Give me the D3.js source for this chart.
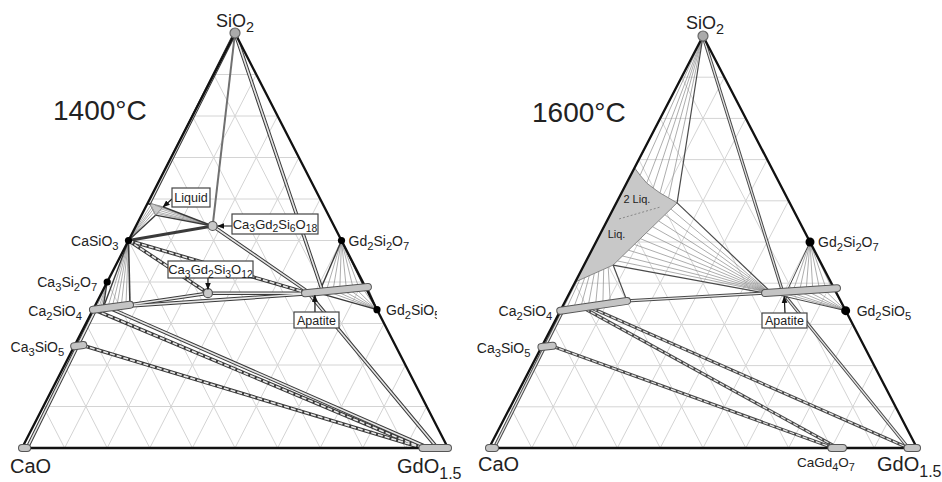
<!DOCTYPE html>
<html><head><meta charset="utf-8">
<script src="https://cdn.jsdelivr.net/npm/d3@7"></script>
<style>
body{margin:0;background:#fff}
svg{display:block}
text{font-family:"Liberation Sans",Arial,sans-serif;fill:#222}
</style>
</head><body>
<svg id="c" width="942" height="482"></svg>
<script>
// ---------- DATA (compositions as [GdO1.5 fraction, SiO2 fraction]) ----------
const gridTicks = [0.1,0.2,0.3,0.4,0.5,0.6,0.7,0.8,0.9];

const SiO2=[0,1], CaO=[0,0], GdO=[1,0];
const CaSiO3=[0,0.5], Ca3Si2O7=[0,0.4], Ca2SiO4=[0,1/3], Ca3SiO5=[0,0.25];
const Gd2Si2O7=[0.5,0.5], Gd2SiO5=[2/3,1/3];
const Ca3Gd2Si6O18=[0.18,0.535], Ca3Gd2Si3O12=[0.25,0.373];
const Apatite=[0.5,0.375];

// ----- 1400 °C -----
const bars1400 = [[[0,0],[0.012,0]], [[0.94,0],[1,0]], [[0,0.333],[0.081,0.345]], [[0,0.245],[0.02,0.248]], [[0.478,0.373],[0.618,0.388]]];
const liquid1400 = [[0.004,0.590],[0.041,0.581],[0.033,0.561]];
const dots1400 = [CaSiO3, Ca3Si2O7, Gd2Si2O7, Gd2SiO5];
const circles1400 = [Ca3Gd2Si6O18, Ca3Gd2Si3O12];
const singles1400 = [
  [CaSiO3, Ca3Gd2Si6O18, 3, '#3a3a3a'],
  [SiO2, Ca3Gd2Si6O18, 2, '#707070'],
  [[0.041,0.581], Ca3Gd2Si6O18, 1.4, '#3a3a3a'],
  [[0.033,0.561], Ca3Gd2Si6O18, 1.4, '#3a3a3a'],
  [CaSiO3, [0.033,0.561], 1.4, '#3a3a3a'],
  [CaSiO3, [0.081,0.345], 1.6, '#3a3a3a'],
  [CaSiO3, [0.022,0.336], 1.4, '#3a3a3a'],
  [Ca3Si2O7, [0.022,0.336], 1.4, '#3a3a3a'],
  [Gd2Si2O7, [0.51,0.377], 1.4, '#3a3a3a'],
  [Gd2Si2O7, [0.61,0.387], 1.4, '#3a3a3a'],
  [Gd2SiO5, [0.515,0.372], 1.4, '#3a3a3a'],
  [Gd2SiO5, [0.618,0.386], 1.4, '#3a3a3a']
];
const doubles1400 = [
  [SiO2, [0.004,0.590], 0],
  [SiO2, [0.514,0.381], 0],
  [[0.49,0.370], [0.975,0], 0],
  [Ca3Gd2Si6O18, [0.48,0.378], 0],
  [CaSiO3, [0.478,0.375], 1],
  [CaSiO3, Ca3Gd2Si3O12, 1],
  [Ca3Gd2Si3O12, [0.478,0.373], 0],
  [[0.081,0.345], Ca3Gd2Si3O12, 0],
  [[0.081,0.342], [0.478,0.371], 0],
  [[0.006,0.332], [0.94,0], 1],
  [[0.04,0.336], [0.955,0], 0],
  [[0.02,0.247], [0.94,0], 1],
  [[0.006,0.333], [0.012,0], 0]
];
const fans1400 = [
  {from: CaSiO3, to: [[0.010,0.587],[0.016,0.581],[0.021,0.576],[0.027,0.570]]},
  {from: Ca3Gd2Si6O18, to: [[0.039,0.576],[0.038,0.572],[0.036,0.568],[0.035,0.565],[0.020,0.585],[0.030,0.583]]},
  {from: CaSiO3, to: [[0.032,0.338],[0.042,0.339],[0.052,0.341],[0.062,0.342],[0.072,0.344]]},
  {from: Ca3Si2O7, to: [[0.006,0.334],[0.012,0.335],[0.017,0.335]]},
  {from: Gd2Si2O7, to: [[0.525,0.378],[0.54,0.380],[0.555,0.382],[0.57,0.383],[0.585,0.385],[0.598,0.386]]},
  {from: Gd2SiO5, to: [[0.53,0.377],[0.545,0.379],[0.56,0.381],[0.575,0.383],[0.59,0.385],[0.605,0.387]]}
];

// ----- 1600 °C -----
const bars1600 = [[[0,0],[0.014,0]], [[0.978,0],[1,0]], [[0.80,0],[0.827,0]], [[0,0.333],[0.144,0.357]], [[0,0.245],[0.025,0.248]], [[0.457,0.376],[0.619,0.388]]];
const liquid1600 = [[0,0.680],[0.022,0.662],[0.047,0.643],[0.068,0.631],[0.090,0.619],[0.116,0.607],[0.142,0.595],[0.068,0.444],[0,0.403]];
const liqDash1600 = [[0.026,0.556],[0.108,0.585]];
const dots1600 = [Gd2Si2O7, Gd2SiO5];
const singles1600 = [
  [SiO2, [0.142,0.595], 1.2, '#4a4a4a'],
  [[0.142,0.595], [0.47,0.378], 1.2, '#4a4a4a'],
  [[0.068,0.444], [0.462,0.375], 1.2, '#4a4a4a'],
  [[0.068,0.444], [0.144,0.357], 1.2, '#4a4a4a'],
  [Gd2Si2O7, [0.506,0.379], 1, '#4a4a4a'],
  [Gd2SiO5, [0.47,0.376], 1, '#4a4a4a']
];
const doubles1600 = [
  [SiO2, [0.499,0.376], 0],
  [[0.514,0.364], [0.98,0], 0],
  [[0.144,0.357], [0.457,0.376], 0],
  [[0.006,0.333], [0.012,0], 0],
  [[0.025,0.247], [0.805,0], 1],
  [[0.055,0.338], [0.815,0], 1],
  [[0.071,0.339], [0.98,0], 1]
];
const fans1600 = [
  {from: SiO2, to: [[0.001,0.680],[0.022,0.662],[0.047,0.643],[0.068,0.631],[0.090,0.619],[0.116,0.607]]},
  {from: [0.468,0.377], to: [[0.135,0.580],[0.128,0.566],[0.121,0.551],[0.114,0.537],[0.107,0.522],[0.100,0.508],[0.093,0.494],[0.086,0.480],[0.079,0.466],[0.073,0.454]]},
  {from: Gd2Si2O7, to: [[0.52,0.380],[0.535,0.381],[0.55,0.382],[0.565,0.383],[0.58,0.385],[0.595,0.386],[0.608,0.387]]},
  {from: Gd2SiO5, to: [[0.49,0.378],[0.51,0.379],[0.53,0.381],[0.55,0.382],[0.57,0.383],[0.59,0.385],[0.61,0.387]]}
];
const liqTies1600 = [
  [[0.008,0.408],[0.012,0.335]], [[0.017,0.414],[0.028,0.338]], [[0.025,0.419],[0.044,0.340]],
  [[0.034,0.424],[0.060,0.343]], [[0.042,0.429],[0.076,0.346]], [[0.051,0.434],[0.092,0.348]],
  [[0.059,0.439],[0.108,0.351]], [[0.003,0.405],[0.004,0.334]]
];

// ---------- LAYOUT ----------
const svg = d3.select('#c');
svg.append('defs').append('marker').attr('id','arr').attr('viewBox','0 0 10 10')
  .attr('refX',9).attr('refY',5).attr('markerWidth',6).attr('markerHeight',6).attr('orient','auto')
  .append('path').attr('d','M0,1 L10,5 L0,9 Z').attr('fill','#111');
svg.select('defs').append('clipPath').attr('id','clipGd').append('rect').attr('x',380).attr('y',295).attr('width',57).attr('height',30);

function formula(sel, str, fs){
  const parts = str.match(/\d+(\.\d+)?|[^\d]+/g);
  let inSub=false;
  parts.forEach(p=>{
    const isNum=/^\d/.test(p);
    const t=sel.append('tspan').text(p);
    if(isNum){ t.attr('font-size',fs*0.8); if(!inSub) t.attr('dy',fs*0.3); inSub=true; }
    else { t.attr('font-size',fs); if(inSub) t.attr('dy',-fs*0.3); inSub=false; }
  });
}

function panel(cfg){
  const x=d3.scaleLinear().domain([0,1]).range([cfg.x0,cfg.x1]);
  const y=d3.scaleLinear().domain([0,1]).range([cfg.base,cfg.apex]);
  const P=d=>[x(d[0]+d[1]/2), y(d[1])];
  const g=svg.append('g');
  const line=(sel,a,b)=>sel.attr('x1',P(a)[0]).attr('y1',P(a)[1]).attr('x2',P(b)[0]).attr('y2',P(b)[1]);

  // grid
  const segs=[];
  gridTicks.forEach(k=>{ segs.push([[0,k],[1-k,k]]); segs.push([[k,0],[k,1-k]]); segs.push([[1-k,0],[0,1-k]]); });
  g.append('g').selectAll('line').data(segs).join('line')
    .each(function(d){line(d3.select(this),d[0],d[1]);})
    .attr('stroke','#d4d4d4').attr('stroke-width',1);

  // liquid region
  if(cfg.liquid){
    g.append('path').attr('d',d3.line()(cfg.liquid.map(P))+'Z')
      .attr('fill','#c8c8c8').attr('stroke','#888').attr('stroke-width',1);
  }
  if(cfg.liqDash){
    g.append('path').attr('d',d3.line()(cfg.liqDash.map(P)))
      .attr('stroke','#888').attr('stroke-width',1).attr('stroke-dasharray','2,2').attr('fill','none');
  }

  // fans (thin tie lines)
  const fanSegs=[];
  cfg.fans.forEach(f=>f.to.forEach(t=>fanSegs.push([f.from,t])));
  (cfg.liqTies||[]).forEach(t=>fanSegs.push(t));
  g.append('g').selectAll('line').data(fanSegs).join('line')
    .each(function(d){line(d3.select(this),d[0],d[1]);})
    .attr('stroke','#8a8a8a').attr('stroke-width',0.7);

  // single dark tie lines
  g.append('g').selectAll('line').data(cfg.singles).join('line')
    .each(function(d){line(d3.select(this),d[0],d[1]);})
    .attr('stroke',d=>d[3]).attr('stroke-width',d=>d[2]);

  // double tie lines
  const dg=g.append('g');
  dg.selectAll('line.o').data(cfg.doubles).join('line').attr('class','o')
    .each(function(d){line(d3.select(this),d[0],d[1]);})
    .attr('stroke',cfg.dark).attr('stroke-width',cfg.dw).attr('stroke-linecap','round');
  dg.selectAll('line.i').data(cfg.doubles).join('line').attr('class','i')
    .each(function(d){line(d3.select(this),d[0],d[1]);})
    .attr('stroke','#e6e6e6').attr('stroke-width',cfg.dw-2)
    .attr('stroke-dasharray',d=>d[2]?'5,2':null);

  // triangle frame
  g.append('path').attr('d',d3.line()([SiO2,CaO,GdO].map(P))+'Z')
    .attr('fill','none').attr('stroke','#111').attr('stroke-width',2.3).attr('stroke-linejoin','round');

  // solid-solution bars
  g.append('g').selectAll('line.bo').data(cfg.bars).join('line').attr('class','bo')
    .each(function(d){line(d3.select(this),d[0],d[1]);})
    .attr('stroke','#555').attr('stroke-width',8).attr('stroke-linecap','round');
  g.append('g').selectAll('line.bi').data(cfg.bars).join('line').attr('class','bi')
    .each(function(d){line(d3.select(this),d[0],d[1]);})
    .attr('stroke','#c4c4c4').attr('stroke-width',6).attr('stroke-linecap','round');

  // compounds
  g.append('g').selectAll('circle.d').data(cfg.dots).join('circle').attr('class','d')
    .attr('cx',d=>P(d)[0]).attr('cy',d=>P(d)[1]).attr('r',cfg.dotR).attr('fill','#000');
  g.append('g').selectAll('circle.c').data(cfg.circles||[]).join('circle').attr('class','c')
    .attr('cx',d=>P(d)[0]).attr('cy',d=>P(d)[1]).attr('r',4.5).attr('fill','#c8c8c8').attr('stroke','#555').attr('stroke-width',1.2);
  g.append('circle').attr('cx',P(SiO2)[0]).attr('cy',P(SiO2)[1]).attr('r',5)
    .attr('fill','#aaa').attr('stroke','#666').attr('stroke-width',1.2);

  // labels
  cfg.labels.forEach(l=>{
    const p=P(l.at);
    const t=g.append('text').attr('x',p[0]+l.dx).attr('y',p[1]+l.dy).attr('text-anchor',l.anchor||'start');
    if(l.clip) t.attr('clip-path','url(#clipGd)');
    formula(t,l.t,l.fs);
  });

  // boxed labels with arrows
  cfg.boxes.forEach(b=>{
    const tp=P(b.target);
    g.append('line').attr('x1',b.ax).attr('y1',b.ay).attr('x2',tp[0]+b.tdx).attr('y2',tp[1]+b.tdy)
      .attr('stroke','#111').attr('stroke-width',1.2).attr('marker-end','url(#arr)');
    g.append('rect').attr('x',b.x).attr('y',b.y).attr('width',b.w).attr('height',b.h)
      .attr('fill','#fff').attr('stroke','#444').attr('stroke-width',1.2);
    const t=g.append('text').attr('x',b.x+b.w/2).attr('y',b.y+b.h/2+4.5).attr('text-anchor','middle');
    formula(t,b.t,b.fs);
  });

  g.append('text').attr('x',cfg.titleX).attr('y',cfg.titleY).attr('font-size',28).text(cfg.title);
  (cfg.texts||[]).forEach(t=>{
    const p=P(t.at);
    g.append('text').attr('x',p[0]).attr('y',p[1]).attr('font-size',t.fs).attr('text-anchor','middle').attr('fill','#333').text(t.t);
  });
}

panel({
  x0:22, x1:448, base:448, apex:33, dark:'#3a3a3a', dw:3.6, dotR:3.6,
  title:'1400°C', titleX:53, titleY:120,
  liquid:liquid1400, bars:bars1400, dots:dots1400, circles:circles1400,
  singles:singles1400, doubles:doubles1400, fans:fans1400,
  labels:[
    {t:'SiO2', at:SiO2, dx:0, dy:-6, anchor:'middle', fs:18},
    {t:'CaO', at:CaO, dx:-12, dy:25, fs:20},
    {t:'GdO1.5', at:GdO, dx:-51, dy:25, fs:20},
    {t:'CaSiO3', at:CaSiO3, dx:-10, dy:5, anchor:'end', fs:14},
    {t:'Ca3Si2O7', at:Ca3Si2O7, dx:-10, dy:5, anchor:'end', fs:14},
    {t:'Ca2SiO4', at:Ca2SiO4, dx:-11, dy:6, anchor:'end', fs:14},
    {t:'Ca3SiO5', at:Ca3SiO5, dx:-11, dy:8, anchor:'end', fs:14},
    {t:'Gd2Si2O7', at:Gd2Si2O7, dx:7, dy:5, fs:14},
    {t:'Gd2SiO5', at:Gd2SiO5, dx:9, dy:5, fs:14, clip:true}
  ],
  boxes:[
    {t:'Liquid', x:172, y:188, w:38, h:19, fs:12.5, ax:172, ay:199, target:[0.041,0.581], tdx:0, tdy:0},
    {t:'Ca3Gd2Si6O18', x:232, y:214, w:86, h:20, fs:13, ax:232, ay:226, target:Ca3Gd2Si6O18, tdx:5, tdy:0},
    {t:'Ca3Gd2Si3O12', x:168, y:261, w:85, h:17, fs:13, ax:208, ay:278, target:Ca3Gd2Si3O12, tdx:0, tdy:-4},
    {t:'Apatite', x:294, y:312, w:45, h:16, fs:12.5, ax:315, ay:312, target:Apatite, tdx:0, tdy:3}
  ]
});

panel({
  x0:489, x1:917, base:448, apex:36, dark:'#4a4a4a', dw:3.2, dotR:4.5,
  title:'1600°C', titleX:532, titleY:122,
  liquid:liquid1600, liqDash:liqDash1600, liqTies:liqTies1600,
  bars:bars1600, dots:dots1600,
  singles:singles1600, doubles:doubles1600, fans:fans1600,
  texts:[{t:'2 Liq.', at:[0.048,0.595], fs:11},{t:'Liq.', at:[0.043,0.51], fs:11}],
  labels:[
    {t:'SiO2', at:SiO2, dx:2, dy:-7, anchor:'middle', fs:18},
    {t:'CaO', at:CaO, dx:-11, dy:23, fs:20},
    {t:'GdO1.5', at:GdO, dx:-40, dy:23, fs:20},
    {t:'CaGd4O7', at:[0.815,0], dx:-12, dy:19, anchor:'middle', fs:13.5},
    {t:'Ca2SiO4', at:Ca2SiO4, dx:-8, dy:5, anchor:'end', fs:14},
    {t:'Ca3SiO5', at:Ca3SiO5, dx:-12, dy:8, anchor:'end', fs:14},
    {t:'Gd2Si2O7', at:Gd2Si2O7, dx:8, dy:5, fs:14},
    {t:'Gd2SiO5', at:Gd2SiO5, dx:11, dy:5, fs:14}
  ],
  boxes:[
    {t:'Apatite', x:762, y:313, w:45, h:15, fs:12.5, ax:785, ay:313, target:Apatite, tdx:1, tdy:3}
  ]
});
</script>
</body></html>
